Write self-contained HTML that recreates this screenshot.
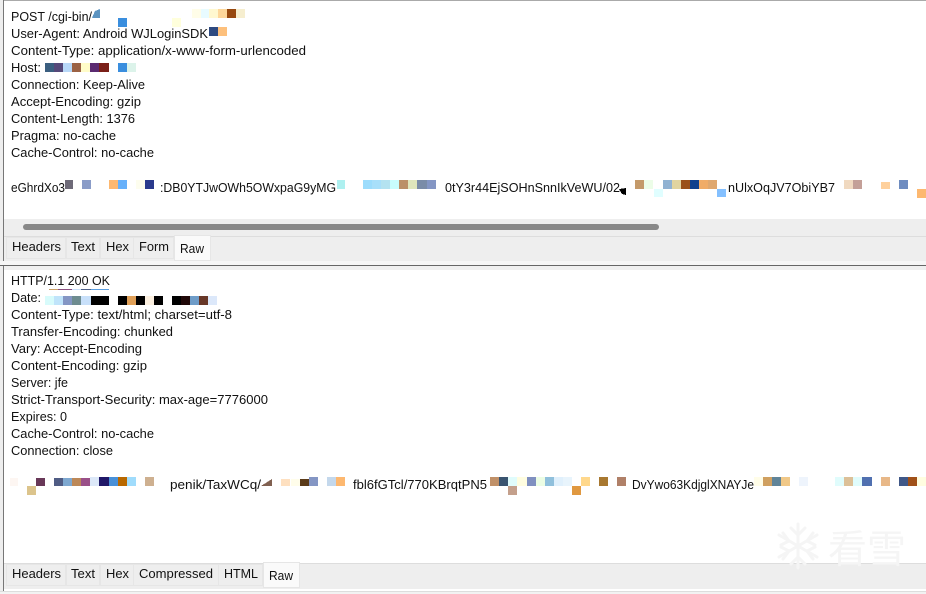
<!DOCTYPE html>
<html><head><meta charset="utf-8"><style>
html,body{margin:0;padding:0;background:#fff}
svg{display:block}
text{font-family:"Liberation Sans","Noto Sans CJK SC",sans-serif;font-size:13px;fill:#111}
</style></head><body>
<svg width="926" height="594" viewBox="0 0 926 594" xmlns="http://www.w3.org/2000/svg" shape-rendering="crispEdges">
<rect width="926" height="594" fill="#fff"/>
<!-- chrome -->
<rect x="0" y="0" width="926" height="1" fill="#aaa"/>
<rect x="0" y="0" width="3" height="594" fill="#eee"/>
<rect x="3" y="0" width="1" height="264" fill="#777"/>
<rect x="3" y="266" width="1" height="328" fill="#777"/>
<rect x="4" y="219" width="922" height="17" fill="#eee"/>
<rect x="23" y="224" width="636" height="6" rx="3" fill="#888" shape-rendering="auto"/>
<rect x="4" y="236" width="922" height="1" fill="#ddd"/>
<rect x="4" y="237" width="922" height="24" fill="#eee"/>
<rect x="0" y="261" width="926" height="4" fill="#f6f6f6"/>
<rect x="0" y="265" width="926" height="1" fill="#666"/>
<rect x="4" y="266" width="922" height="4" fill="#f0f0f0"/>
<rect x="4" y="563" width="922" height="1" fill="#ddd"/>
<rect x="4" y="564" width="922" height="25" fill="#eee"/>
<rect x="0" y="591" width="926" height="1" fill="#ddd"/>
<rect x="0" y="592" width="926" height="2" fill="#f2f2f2"/>
<!-- tabs -->
<g fill="#eee" stroke="#e6e6e6">
<rect x="6.5" y="237.5" width="59" height="21"/><rect x="66.5" y="237.5" width="33" height="21"/><rect x="100.5" y="237.5" width="33" height="21"/><rect x="133.5" y="237.5" width="40" height="21"/>
<rect x="174.5" y="235.5" width="36" height="25" fill="#fafafa"/>
<rect x="6.5" y="564.5" width="59" height="21"/><rect x="66.5" y="564.5" width="33" height="21"/><rect x="100.5" y="564.5" width="33" height="21"/><rect x="133.5" y="564.5" width="85" height="21"/><rect x="218.5" y="564.5" width="44" height="21"/>
<rect x="263.5" y="562.5" width="36" height="25" fill="#fafafa"/>
</g>
<!-- watermark -->
<g stroke="#f5f5f5" stroke-width="3" fill="none" shape-rendering="auto" stroke-linecap="round">
<path d="M798 524V568M779 535L817 557M817 535L779 557"/>
<path d="M791 528L798 535L805 528M791 564L798 557L805 564M781 545L789 541L783 533M815 545L807 541L813 533M781 547L789 551L783 559M815 547L807 551L813 559"/>
</g>
<text x="828" y="563" textLength="78" lengthAdjust="spacingAndGlyphs" style="font-size:39px;fill:#f5f5f5;font-family:'Noto Sans CJK SC',sans-serif">看雪</text>
<!-- request text -->
<text x="11" y="21" textLength="81" lengthAdjust="spacingAndGlyphs">POST /cgi-bin/</text>
<text x="11" y="38" textLength="197" lengthAdjust="spacingAndGlyphs">User-Agent: Android WJLoginSDK</text>
<text x="11" y="55" textLength="295" lengthAdjust="spacingAndGlyphs">Content-Type: application/x-www-form-urlencoded</text>
<text x="11" y="72" textLength="30" lengthAdjust="spacingAndGlyphs">Host:</text>
<text x="11" y="89" textLength="134" lengthAdjust="spacingAndGlyphs">Connection: Keep-Alive</text>
<text x="11" y="106" textLength="130" lengthAdjust="spacingAndGlyphs">Accept-Encoding: gzip</text>
<text x="11" y="123" textLength="124" lengthAdjust="spacingAndGlyphs">Content-Length: 1376</text>
<text x="11" y="140" textLength="105" lengthAdjust="spacingAndGlyphs">Pragma: no-cache</text>
<text x="11" y="157" textLength="143" lengthAdjust="spacingAndGlyphs">Cache-Control: no-cache</text>
<text x="11" y="192" textLength="54" lengthAdjust="spacingAndGlyphs">eGhrdXo3</text>
<text x="160" y="192" textLength="176" lengthAdjust="spacingAndGlyphs">:DB0YTJwOWh5OWxpaG9yMG</text>
<text x="445" y="192" textLength="175" lengthAdjust="spacingAndGlyphs">0tY3r44EjSOHnSnnIkVeWU/02</text>
<text x="728" y="192" textLength="107" lengthAdjust="spacingAndGlyphs">nUlxOqJV7ObiYB7</text>
<!-- response text -->
<text x="11" y="285" textLength="99" lengthAdjust="spacingAndGlyphs">HTTP/1.1 200 OK</text>
<text x="11" y="302" textLength="30" lengthAdjust="spacingAndGlyphs">Date:</text>
<text x="11" y="319" textLength="221" lengthAdjust="spacingAndGlyphs">Content-Type: text/html; charset=utf-8</text>
<text x="11" y="336" textLength="162" lengthAdjust="spacingAndGlyphs">Transfer-Encoding: chunked</text>
<text x="11" y="353" textLength="131" lengthAdjust="spacingAndGlyphs">Vary: Accept-Encoding</text>
<text x="11" y="370" textLength="136" lengthAdjust="spacingAndGlyphs">Content-Encoding: gzip</text>
<text x="11" y="387" textLength="57" lengthAdjust="spacingAndGlyphs">Server: jfe</text>
<text x="11" y="404" textLength="257" lengthAdjust="spacingAndGlyphs">Strict-Transport-Security: max-age=7776000</text>
<text x="11" y="421" textLength="56" lengthAdjust="spacingAndGlyphs">Expires: 0</text>
<text x="11" y="438" textLength="143" lengthAdjust="spacingAndGlyphs">Cache-Control: no-cache</text>
<text x="11" y="455" textLength="102" lengthAdjust="spacingAndGlyphs">Connection: close</text>
<text x="170" y="489" textLength="91" lengthAdjust="spacingAndGlyphs">penik/TaxWCq/</text>
<text x="353" y="489" textLength="134" lengthAdjust="spacingAndGlyphs">fbl6fGTcl/770KBrqtPN5</text>
<text x="632" y="489" textLength="122" lengthAdjust="spacingAndGlyphs">DvYwo63KdjglXNAYJe</text>
<!-- tab labels -->
<text x="12" y="251" textLength="49" lengthAdjust="spacingAndGlyphs">Headers</text><text x="71" y="251" textLength="24" lengthAdjust="spacingAndGlyphs">Text</text><text x="106" y="251" textLength="23" lengthAdjust="spacingAndGlyphs">Hex</text><text x="139" y="251" textLength="30" lengthAdjust="spacingAndGlyphs">Form</text><text x="180" y="253" textLength="24" lengthAdjust="spacingAndGlyphs">Raw</text>
<text x="12" y="578" textLength="49" lengthAdjust="spacingAndGlyphs">Headers</text><text x="71" y="578" textLength="24" lengthAdjust="spacingAndGlyphs">Text</text><text x="106" y="578" textLength="23" lengthAdjust="spacingAndGlyphs">Hex</text><text x="139" y="578" textLength="74" lengthAdjust="spacingAndGlyphs">Compressed</text><text x="224" y="578" textLength="34" lengthAdjust="spacingAndGlyphs">HTML</text><text x="269" y="580" textLength="24" lengthAdjust="spacingAndGlyphs">Raw</text>
<!-- mosaics: request -->
<g>
<path d="M92 18L95 11L100 9V18Z" fill="#5b93c0"/>
<rect x="192" y="9" width="9" height="9" fill="#fffde8"/><rect x="201" y="9" width="8" height="9" fill="#e8fbff"/><rect x="209" y="9" width="9" height="9" fill="#fff8d0"/><rect x="218" y="9" width="9" height="9" fill="#fdd79b"/><rect x="227" y="9" width="9" height="9" fill="#97480f"/><rect x="236" y="9" width="9" height="9" fill="#f6eecf"/>
<rect x="118" y="18" width="9" height="9" fill="#3a8ede"/><rect x="172" y="18" width="9" height="9" fill="#ffffdc"/>
<rect x="209" y="27" width="9" height="9" fill="#2e4a80"/><rect x="218" y="27" width="9" height="9" fill="#fdc07c"/>
<rect x="45" y="63" width="9" height="9" fill="#3b5f80"/><rect x="54" y="63" width="9" height="9" fill="#56497a"/><rect x="63" y="63" width="9" height="9" fill="#b8d8f8"/><rect x="72" y="63" width="9" height="9" fill="#9b6244"/><rect x="81" y="63" width="9" height="9" fill="#fffcc8"/><rect x="90" y="63" width="9" height="9" fill="#5b2a70"/><rect x="99" y="63" width="10" height="9" fill="#7a1f18"/><rect x="118" y="63" width="9" height="9" fill="#3a8ede"/><rect x="127" y="63" width="9" height="9" fill="#dcf3ea"/>
<rect x="65" y="180" width="8" height="9" fill="#6e6a78"/><rect x="82" y="180" width="9" height="9" fill="#8a9cc8"/><rect x="109" y="180" width="9" height="9" fill="#fdb870"/><rect x="118" y="180" width="9" height="9" fill="#66b0fa"/><rect x="136" y="180" width="9" height="9" fill="#fdfdee"/><rect x="145" y="180" width="9" height="9" fill="#2a3a8c"/>
<rect x="337" y="180" width="8" height="9" fill="#aef0f0"/><rect x="363" y="180" width="9" height="9" fill="#9cdcfc"/><rect x="372" y="180" width="9" height="9" fill="#a8dffa"/><rect x="381" y="180" width="9" height="9" fill="#b4e2f0"/><rect x="390" y="180" width="9" height="9" fill="#c8fcfc"/><rect x="399" y="180" width="9" height="9" fill="#bb9068"/><rect x="408" y="180" width="9" height="9" fill="#dfe6bc"/><rect x="417" y="180" width="10" height="9" fill="#7a8ca8"/><rect x="427" y="180" width="9" height="9" fill="#8496c4"/>
<path d="M619 189L626 188V195L622 194Z" fill="#000"/>
<rect x="635" y="180" width="9" height="9" fill="#c49a6a"/><rect x="644" y="180" width="9" height="9" fill="#ecfde8"/><rect x="654" y="189" width="9" height="8" fill="#e0feff"/><rect x="663" y="180" width="9" height="9" fill="#90b2d2"/><rect x="672" y="180" width="9" height="9" fill="#e0d4a0"/><rect x="681" y="180" width="9" height="9" fill="#9a5018"/><rect x="690" y="180" width="9" height="9" fill="#0f408e"/><rect x="699" y="180" width="9" height="9" fill="#f0ac68"/><rect x="708" y="180" width="9" height="9" fill="#dfa870"/><rect x="717" y="189" width="9" height="8" fill="#84c0ff"/>
<rect x="844" y="180" width="9" height="9" fill="#f0d9c0"/><rect x="853" y="180" width="9" height="9" fill="#c4a098"/><rect x="881" y="182" width="9" height="7" fill="#fed09c"/><rect x="899" y="180" width="9" height="9" fill="#6e8cc0"/><rect x="917" y="189" width="9" height="9" fill="#fdb870"/>
</g>
<!-- mosaics: response -->
<g>
<rect x="49" y="289" width="9" height="1" fill="#c9a068"/><rect x="58" y="289" width="14" height="1" fill="#8a5080"/><rect x="72" y="289" width="9" height="1" fill="#c8e0fa"/><rect x="81" y="289" width="10" height="1" fill="#506088"/><rect x="91" y="289" width="18" height="1" fill="#5a9ee0"/>
<rect x="45" y="296" width="9" height="9" fill="#d8fbfb"/><rect x="54" y="296" width="9" height="9" fill="#c0e4fa"/><rect x="63" y="296" width="9" height="9" fill="#8496c4"/><rect x="72" y="296" width="9" height="9" fill="#6e8c90"/><rect x="81" y="296" width="10" height="9" fill="#c8e0fa"/><rect x="91" y="296" width="18" height="9" fill="#000"/><rect x="118" y="296" width="9" height="9" fill="#000"/><rect x="127" y="296" width="9" height="9" fill="#e0a058"/><rect x="136" y="296" width="9" height="9" fill="#000"/><rect x="145" y="296" width="9" height="9" fill="#fcf0e0"/><rect x="154" y="296" width="9" height="9" fill="#000"/><rect x="172" y="296" width="9" height="9" fill="#000"/><rect x="181" y="296" width="9" height="9" fill="#200808"/><rect x="190" y="296" width="9" height="9" fill="#6e9cc8"/><rect x="199" y="296" width="9" height="9" fill="#683828"/><rect x="208" y="296" width="9" height="9" fill="#dce8fa"/>
<rect x="10" y="478" width="8" height="8" fill="#fdf6f2"/><rect x="36" y="478" width="9" height="8" fill="#683858"/><rect x="54" y="478" width="9" height="8" fill="#505c84"/><rect x="63" y="478" width="9" height="8" fill="#7ea8d0"/><rect x="72" y="478" width="9" height="8" fill="#bc8858"/><rect x="81" y="478" width="9" height="8" fill="#9a5088"/><rect x="90" y="477" width="9" height="9" fill="#dce8f8"/><rect x="99" y="477" width="10" height="9" fill="#201868"/><rect x="109" y="477" width="9" height="9" fill="#4890d8"/><rect x="118" y="477" width="9" height="9" fill="#b86800"/><rect x="127" y="477" width="9" height="9" fill="#a0dcfc"/><rect x="145" y="477" width="9" height="9" fill="#ceb090"/><rect x="27" y="486" width="9" height="9" fill="#dcc48c"/>
<path d="M261 486L272 479V486Z" fill="#806050"/><rect x="281" y="479" width="9" height="7" fill="#fee0c0"/><rect x="291" y="479" width="9" height="7" fill="#fffdea"/><rect x="300" y="479" width="9" height="7" fill="#5a3a18"/><rect x="309" y="477" width="9" height="9" fill="#8496c4"/><rect x="327" y="477" width="9" height="9" fill="#c4d8ec"/><rect x="336" y="477" width="9" height="9" fill="#fdb870"/>
<rect x="490" y="477" width="9" height="9" fill="#c09068"/><rect x="499" y="477" width="9" height="9" fill="#3a5470"/><rect x="508" y="477" width="9" height="9" fill="#e0fcfc"/><rect x="517" y="477" width="10" height="9" fill="#fffde0"/><rect x="527" y="477" width="9" height="9" fill="#8090c0"/><rect x="536" y="477" width="9" height="9" fill="#ecfde4"/><rect x="545" y="477" width="9" height="9" fill="#90c0dc"/><rect x="554" y="477" width="9" height="9" fill="#e0f0fc"/><rect x="563" y="477" width="9" height="9" fill="#e8f4fc"/><rect x="581" y="477" width="9" height="9" fill="#ffd88c"/><rect x="572" y="486" width="9" height="9" fill="#e09840"/><rect x="508" y="486" width="9" height="9" fill="#c4a08c"/><rect x="599" y="477" width="9" height="9" fill="#a87830"/><rect x="617" y="477" width="9" height="9" fill="#b08068"/>
<rect x="754" y="477" width="9" height="9" fill="#fffde8"/><rect x="763" y="477" width="9" height="9" fill="#d0a060"/><rect x="772" y="477" width="9" height="9" fill="#608498"/><rect x="781" y="477" width="9" height="9" fill="#f0c888"/><rect x="799" y="477" width="9" height="9" fill="#eef4fc"/><rect x="835" y="477" width="9" height="9" fill="#e0fcfc"/><rect x="844" y="477" width="9" height="9" fill="#dcc098"/><rect x="853" y="477" width="9" height="9" fill="#e0fcfc"/><rect x="862" y="477" width="10" height="9" fill="#5070b0"/><rect x="881" y="477" width="9" height="9" fill="#e8b888"/><rect x="899" y="477" width="9" height="9" fill="#405888"/><rect x="908" y="477" width="9" height="9" fill="#a05018"/><rect x="917" y="477" width="9" height="9" fill="#fffde0"/>
</g>
</svg>
</body></html>
